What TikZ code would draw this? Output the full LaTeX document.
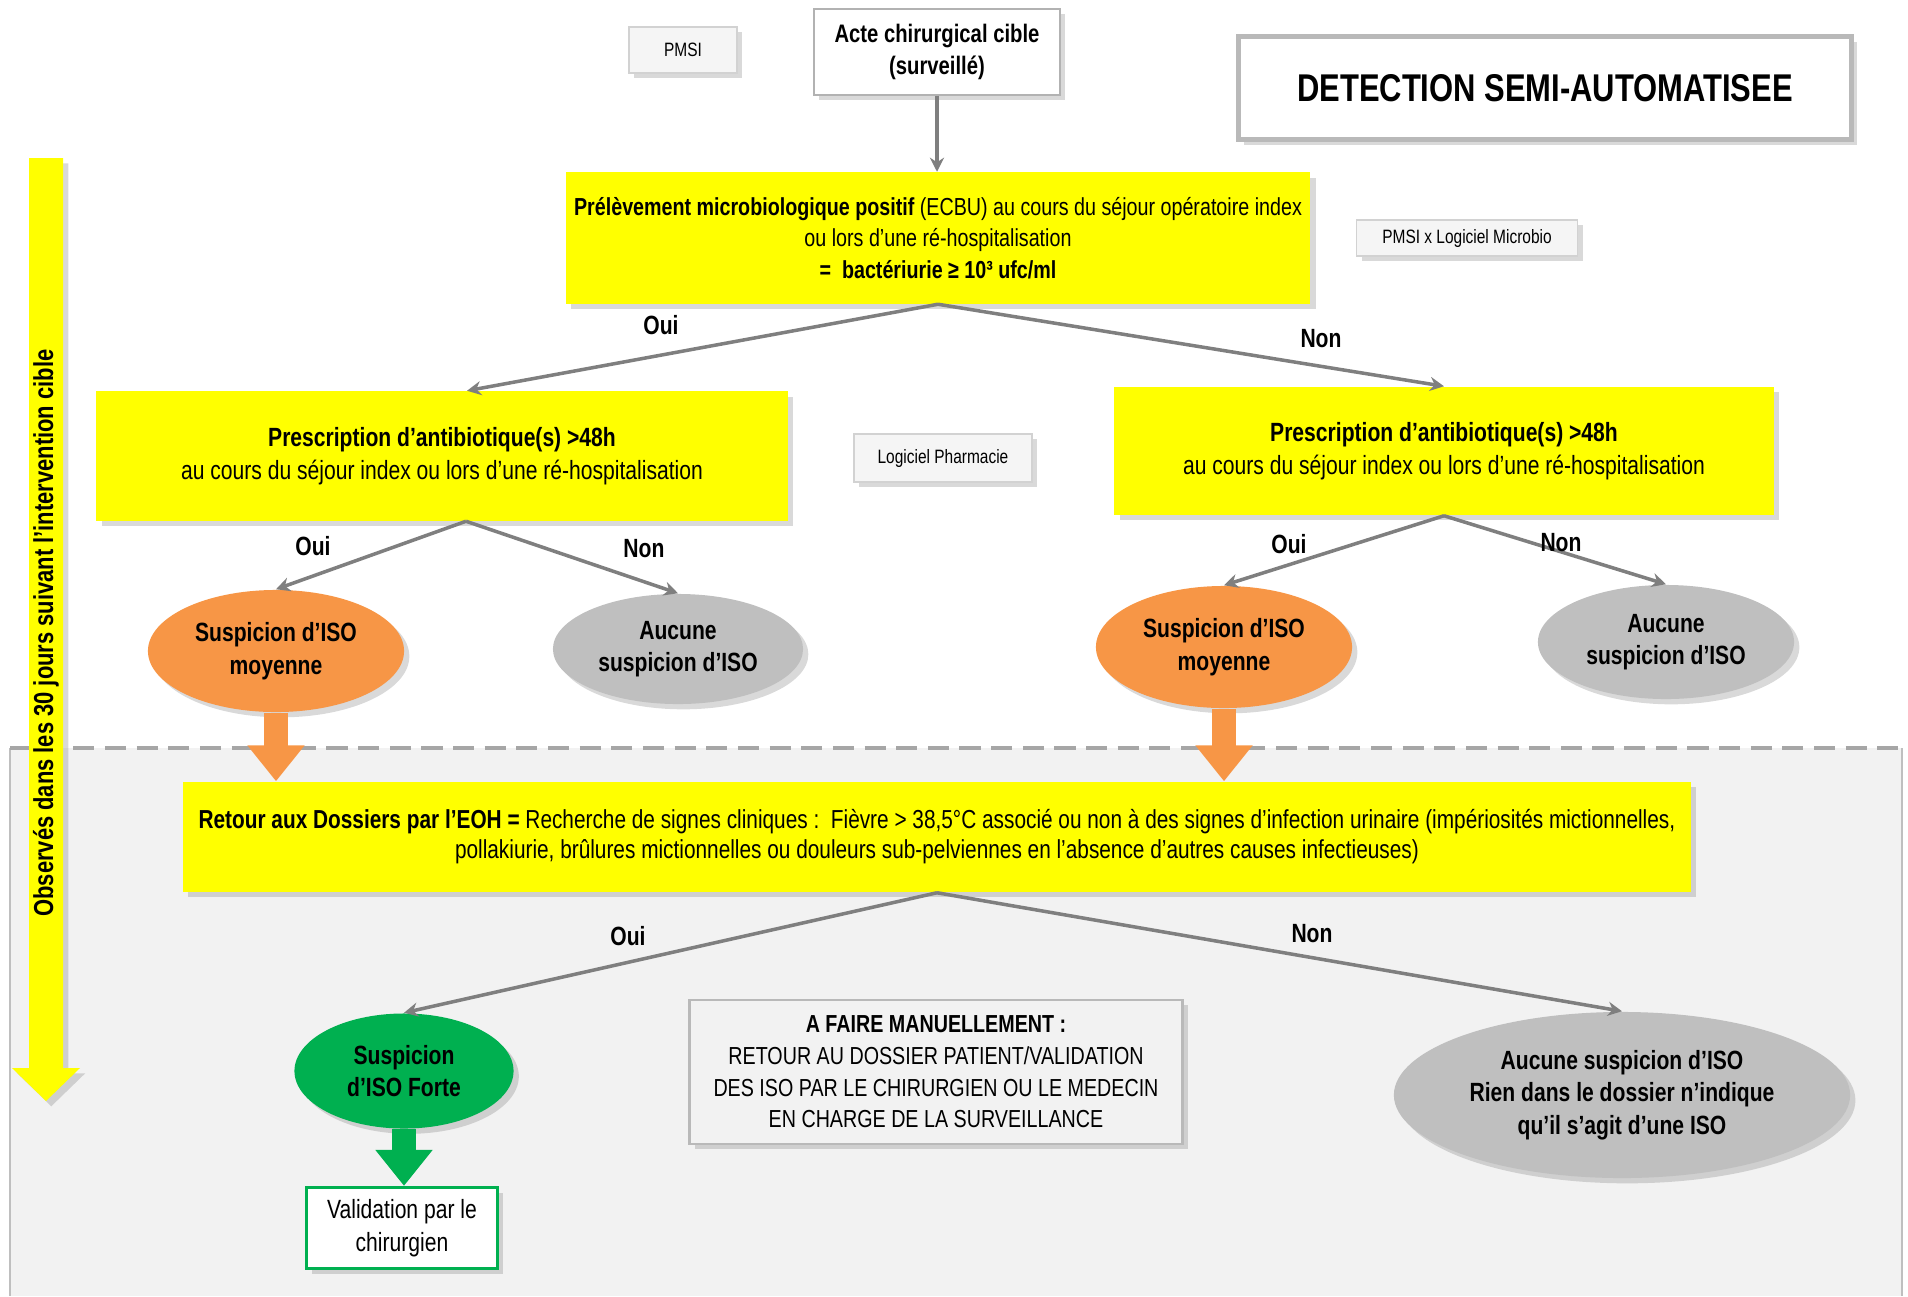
\documentclass[tikz,border=0pt]{standalone}
\usepackage{fontspec}
\setmainfont{Liberation Sans}[FakeStretch=0.8]
\usetikzlibrary{positioning,arrows.meta,shapes.geometric,shadows,calc}
\definecolor{jaune}{HTML}{FFFF00}
\definecolor{orangeiso}{HTML}{F79646}
\definecolor{grisiso}{HTML}{BFBFBF}
\definecolor{vertiso}{HTML}{00B050}
\definecolor{fond}{HTML}{F2F2F2}
\definecolor{trait}{HTML}{7F7F7F}

\begin{document}
\begin{tikzpicture}[
    x=0.01cm, y=-0.01cm,
    ombre/.style={drop shadow={shadow xshift=1.5pt, shadow yshift=-1.5pt, opacity=0.3}},
    jbox/.style={fill=jaune, ombre, align=center, inner sep=0pt, font=\fontsize{7}{9}\selectfont},
    petit/.style={draw=gray!35, fill=gray!8, ombre, align=center, inner sep=0pt, font=\fontsize{5.5}{7}\selectfont},
    iso/.style={ellipse, inner sep=0pt, align=center, ombre, font=\bfseries\fontsize{7.5}{9.3}\selectfont},
    titre/.style={draw=gray!55, line width=1.5pt, fill=white, ombre, font=\bfseries\fontsize{11}{13}\selectfont},
    arr/.style={-{Stealth[length=4pt,width=4pt]}, draw=trait, line width=1pt},
    gros/.style={line width=0.24cm, -{Triangle[width=0.55cm,length=0.36cm]}},
    rep/.style={font=\bfseries\fontsize{7.5}{9}\selectfont}
  ]
  \useasboundingbox (0,0) rectangle (1908,1296);

  % zone basse
  \fill[fond] (10,748) rectangle (1902,1296);
  \draw[gray!50, line width=0.4pt] (10,748) -- (10,1296) (1902,748) -- (1902,1296);
  \draw[gray!70, line width=1.2pt, dash pattern=on 6pt off 3pt] (10,748) -- (1908,748);

  % fleche des 30 jours
  \fill[jaune, ombre] (29,158) -- (63,158) -- (63,1068) -- (80,1068) -- (46,1101)
    -- (12,1068) -- (29,1068) -- cycle;
  \node[rotate=90, font=\bfseries\fontsize{7.8}{9}\selectfont] (obs) at (46,633)
    {Observés dans les 30 jours suivant l'intervention cible};

  \node[petit, minimum width=1.08cm, minimum height=0.46cm] (pmsi) at (683,50) {PMSI};
  \node[draw=gray!60, fill=white, ombre, align=center, minimum width=2.46cm, minimum height=0.86cm,
    font=\bfseries\fontsize{7.2}{9.3}\selectfont] (acte) at (937,52) {Acte chirurgical cible\\(surveillé)};
  \node[titre, minimum width=6.13cm, minimum height=1.03cm] (titre) at (1545,88) {DETECTION SEMI-AUTOMATISEE};

  \node[jbox, minimum width=7.44cm, minimum height=1.31cm] (prelev) at (938,238)
    {\textbf{Prélèvement microbiologique positif} (ECBU) au cours du séjour opératoire index\\
     ou lors d'une ré-hospitalisation\\\textbf{=\ \ bactériurie ≥ 10³ ufc/ml}};
  \node[petit, minimum width=2.21cm, minimum height=0.36cm] (microbio) at (1467,238) {PMSI x Logiciel Microbio};

  \node[jbox, minimum width=6.91cm, minimum height=1.29cm, font=\fontsize{7.5}{9.5}\selectfont] (prescrL) at (442,456)
    {\textbf{Prescription d'antibiotique(s) >48h}\\au cours du séjour index ou lors d'une ré-hospitalisation};
  \node[petit, minimum width=1.78cm, minimum height=0.48cm] (pharma) at (943,458) {Logiciel Pharmacie};
  \node[jbox, minimum width=6.59cm, minimum height=1.28cm, font=\fontsize{7.5}{9.5}\selectfont] (prescrR) at (1444,451)
    {\textbf{Prescription d'antibiotique(s) >48h}\\au cours du séjour index ou lors d'une ré-hospitalisation};

  \node[iso, fill=orangeiso, minimum width=2.56cm, minimum height=1.22cm] (orL) at (276,651) {Suspicion d'ISO\\moyenne};
  \node[iso, fill=grisiso, minimum width=2.5cm, minimum height=1.1cm] (grL) at (678,649) {Aucune\\suspicion d'ISO};
  \node[iso, fill=orangeiso, minimum width=2.56cm, minimum height=1.22cm] (orR) at (1224,647) {Suspicion d'ISO\\moyenne};
  \node[iso, fill=grisiso, minimum width=2.56cm, minimum height=1.14cm] (grR) at (1666,642) {Aucune\\suspicion d'ISO};

  \node[jbox, minimum width=15.07cm, minimum height=1.1cm, font=\fontsize{7.4}{8.5}\selectfont] (retour) at (937,837)
    {\textbf{Retour aux Dossiers par l'EOH =} Recherche de signes cliniques :\ \ Fièvre > 38,5°C associé ou non à des signes d'infection urinaire (impériosités mictionnelles,\\
     pollakiurie, brûlures mictionnelles ou douleurs sub-pelviennes en l'absence d'autres causes infectieuses)};

  \node[iso, fill=vertiso, minimum width=2.19cm, minimum height=1.15cm] (fort) at (404,1071) {Suspicion\\d'ISO Forte};
  \node[draw=vertiso, line width=1pt, fill=white, ombre, align=center, minimum width=1.91cm, minimum height=0.78cm,
    font=\fontsize{7.5}{9.3}\selectfont] (valid) at (402,1228) {Validation par le\\chirurgien};
  \node[draw=gray!55, line width=0.8pt, fill=fond, ombre, align=center, minimum width=4.93cm, minimum height=1.44cm,
    font=\fontsize{7}{9}\selectfont] (manuel) at (936,1072)
    {\textbf{A FAIRE MANUELLEMENT :}\\RETOUR AU DOSSIER PATIENT/VALIDATION\\DES ISO PAR LE CHIRURGIEN OU LE MEDECIN\\EN CHARGE DE LA SURVEILLANCE};
  \node[iso, fill=grisiso, minimum width=4.56cm, minimum height=1.66cm] (aucune) at (1622,1095)
    {Aucune suspicion d'ISO\\Rien dans le dossier n'indique\\qu'il s'agit d'une ISO};

  \coordinate (pLh) at ($(prescrL.north)+(25,0)$);
  \coordinate (pLb) at ($(prescrL.south)+(24,0)$);

  \draw[arr] (acte) -- (acte |- prelev.north);
  \draw[arr] (prelev.south) -- (pLh);
  \draw[arr] (prelev.south) -- (prescrR.north);
  \draw[arr] (pLb) -- (orL.north);
  \draw[arr] (pLb) -- (grL.north);
  \draw[arr] (prescrR.south) -- (orR.north);
  \draw[arr] (prescrR.south) -- (grR.north);
  \draw[arr] (retour.south) -- (fort.north);
  \draw[arr] (retour.south) -- (aucune.north);
  \draw[gros, orangeiso] (orL.south) -- (orL.south |- retour.north);
  \draw[gros, orangeiso] (orR.south) -- (orR.south |- retour.north);
  \draw[gros, vertiso] (fort.south) -- (fort.south |- valid.north);

  \node[rep] (oui1) at (661,325) {Oui};
  \node[rep] (non1) at (1321,339) {Non};
  \node[rep] (oui2) at (313,546) {Oui};
  \node[rep] (non2) at (644,549) {Non};
  \node[rep] (oui3) at (1289,544) {Oui};
  \node[rep] (non3) at (1561,543) {Non};
  \node[rep] (oui4) at (628,936) {Oui};
  \node[rep] (non4) at (1312,934) {Non};
\end{tikzpicture}
\end{document}
